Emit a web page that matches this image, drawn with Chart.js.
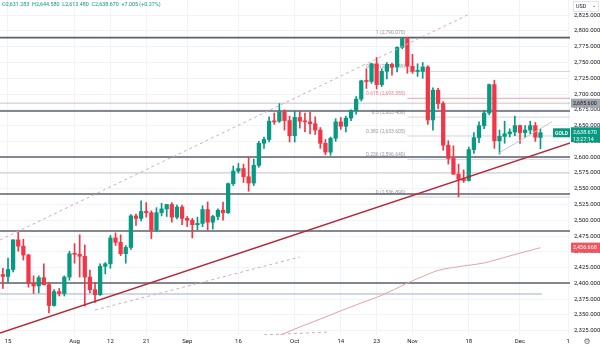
<!DOCTYPE html>
<html>
<head>
<meta charset="utf-8">
<script src="https://cdn.jsdelivr.net/npm/chart.js@4.4.1/dist/chart.umd.min.js"></script>
<style>
html, body { margin: 0; padding: 0; background: #fff; }
#wrap { width: 600px; height: 348px; }
</style>
</head>
<body>
<div id="wrap"><canvas id="goldChart" width="600" height="348"></canvas></div>
<script>
// GOLD daily candles, Jul 12 - Dec 6 (trading days, index 0..105)
const open = [
  2414, 2411, 2422, 2469, 2459, 2445, 2400, 2396, 2409, 2398, 2365, 2387, 2384, 2410,
  2447, 2446, 2443, 2410, 2390, 2382, 2427, 2431, 2472, 2465, 2447, 2457, 2507, 2503,
  2514, 2512, 2485, 2512, 2518, 2525, 2505, 2521,
  2503, 2500, 2493, 2495, 2517, 2497, 2506, 2516, 2512, 2558, 2578, 2582, 2569, 2559,
  2587, 2622, 2628, 2657, 2657, 2672, 2658,
  2634, 2663, 2657, 2656, 2653, 2643, 2622, 2608, 2630, 2656, 2649, 2662, 2674, 2692,
  2721, 2720, 2748, 2715, 2736, 2747, 2743, 2774, 2788,
  2744, 2736, 2736, 2743, 2659, 2706, 2685, 2619, 2598, 2573, 2565, 2563, 2612, 2631,
  2650, 2670, 2715, 2626, 2633, 2637, 2640,
  2650, 2639, 2643, 2650, 2631.283
];
const high = [
  2424, 2440, 2469, 2483, 2470, 2446, 2412, 2412, 2431, 2401, 2390, 2392, 2412, 2451,
  2463, 2477, 2461, 2421, 2401, 2431, 2433, 2476, 2480, 2477, 2460, 2509, 2510, 2531,
  2528, 2515, 2520, 2527, 2525, 2528, 2524, 2524,
  2506, 2503, 2505, 2523, 2529, 2508, 2518, 2529, 2559, 2586, 2590, 2589, 2600, 2597,
  2625, 2632, 2664, 2670, 2685, 2675, 2665,
  2673, 2673, 2670, 2671, 2664, 2647, 2628, 2632, 2661, 2663, 2665, 2675, 2696, 2722,
  2740, 2749, 2758, 2740, 2750, 2749, 2775, 2790, 2790.07,
  2763, 2748, 2750, 2745, 2710, 2709, 2688, 2626, 2618, 2589, 2580, 2616, 2639, 2656,
  2674, 2716, 2722, 2643, 2657, 2645, 2665,
  2651, 2650, 2657, 2655, 2644.58
];
const low = [
  2392, 2401, 2418, 2451, 2437, 2394, 2384, 2385, 2397, 2353, 2364, 2380, 2380, 2405,
  2432, 2410, 2364, 2385, 2370, 2381, 2415, 2424, 2460, 2444, 2432, 2454, 2492, 2499,
  2505, 2471, 2482, 2507, 2506, 2497, 2502, 2493,
  2490, 2472, 2485, 2490, 2485, 2486, 2501, 2500, 2511, 2555, 2575, 2560, 2546, 2555,
  2584, 2614, 2624, 2652, 2655, 2643, 2624,
  2624, 2646, 2640, 2637, 2636, 2614, 2604, 2603, 2625, 2644, 2640, 2658, 2668, 2689,
  2709, 2717, 2708, 2712, 2724, 2730, 2735, 2772, 2733,
  2733, 2728, 2725, 2652, 2643, 2677, 2611, 2589, 2573, 2536.89, 2560, 2562, 2606, 2623,
  2645, 2667, 2614, 2605, 2622, 2632, 2634,
  2622, 2631, 2637, 2625, 2613.48
];
const close = [
  2411, 2422, 2469, 2459, 2445, 2400, 2396, 2409, 2398, 2365, 2387, 2384, 2410, 2447,
  2446, 2443, 2410, 2390, 2382, 2427, 2431, 2472, 2465, 2447, 2457, 2507, 2503, 2514,
  2512, 2485, 2512, 2518, 2525, 2505, 2521, 2503,
  2500, 2493, 2495, 2517, 2497, 2506, 2516, 2512, 2558, 2578, 2582, 2569, 2559, 2587,
  2622, 2628, 2657, 2656, 2672, 2658, 2634,
  2663, 2657, 2656, 2653, 2643, 2622, 2608, 2630, 2656, 2649, 2662, 2674, 2692, 2721,
  2720, 2748, 2715, 2736, 2747, 2743, 2774, 2788, 2744,
  2736, 2736, 2743, 2659, 2706, 2685, 2619, 2598, 2573, 2565, 2563, 2612, 2631, 2650,
  2670, 2715, 2626, 2633, 2637, 2640, 2650,
  2639, 2643, 2650, 2631.665, 2638.67
];

// time axis labels (candle index -> text)
const tickIdx = [1, 14, 21, 28, 36, 46, 57, 66, 73, 80, 91, 101, 110.4];
const tickText = ['15', 'Aug', '12', '21', 'Sep', '16', 'Oct', '14', '23', 'Nov', '18', 'Dec', '1'];

// 200-day moving average
const maIdx = [44, 55, 58, 62, 66, 70, 74, 79, 82, 85, 89, 94, 99, 105];
const maVal = [2284, 2320.8, 2330.9, 2343.5, 2356.5, 2369, 2381, 2400.5, 2411, 2420.5, 2426.5, 2432.5, 2443.5, 2456.668];

// horizontal levels
const darkLevels = [2789.4, 2673.2, 2600.3, 2541.7, 2483, 2400.6];
const lightLevels = [2685.6, 2575];
const blueLevel = 2383.2;

// fibonacci retracement, Oct 31 high to Nov 14 low
const fibHigh = 2790.07, fibLow = 2536.89, fibStart = 79;
const fibRatios = [1, 0.786, 0.618, 0.5, 0.382, 0.236, 0];

// trend lines: [index, price] endpoints
const redTrend = [[-0.56, 2321.4], [110.8, 2622.5]];
const upperChannel = [[-0.56, 2468.8], [90.8, 2825.4]];
const lowerChannel = [[18, 2357.8], [58, 2441.8]];
const bottomDash = [[51, 2318.5], [63.5, 2322.8]];
const shortTrend = [[96.9, 2606.7], [107.2, 2655.8]];

const UP = '#089981', DOWN = '#f23645';
const X_MIN = -0.5625, X_MAX = 110.77;

const fmt = v => v.toLocaleString('en-US', { minimumFractionDigits: 3, maximumFractionDigits: 3 });
const seg = (pts) => pts.map(p => ({ x: p[0], y: p[1] }));
const flat = (v, a, b) => [{ x: a, y: v }, { x: b, y: v }];
const candleColor = ctx => close[ctx.dataIndex] >= open[ctx.dataIndex] ? UP : DOWN;

function lineSet(data, color, width, dash, order) {
  return {
    type: 'line', data, borderColor: color, borderWidth: width,
    borderDash: dash || [], pointRadius: 0, fill: false, order: order
  };
}

const datasets = [];
darkLevels.forEach(v => datasets.push(lineSet(flat(v, X_MIN - 1, X_MAX + 1), '#5d606b', 1.6, null, 5)));
lightLevels.forEach(v => datasets.push(lineSet(flat(v, X_MIN - 1, X_MAX + 1), '#c3c6ce', 1, null, 5)));
datasets.push(lineSet(flat(blueLevel, X_MIN - 1, 105.3), '#9fb0cc', 1, null, 5));
fibRatios.forEach(r => {
  const v = fibLow + r * (fibHigh - fibLow);
  datasets.push(lineSet(flat(v, fibStart, X_MAX + 1), r === 0.618 ? '#e8a3a8' : '#d1d4dc', 1, null, 5));
});
datasets.push(lineSet(maIdx.map((i, k) => ({ x: i, y: maVal[k] })), '#e8a0a6', 1, null, 4));
datasets[datasets.length - 1].cubicInterpolationMode = 'monotone';
datasets.push(lineSet(seg(upperChannel), '#d9aab0', 1, [3, 3], 1));
datasets.push(lineSet(seg(lowerChannel), '#d9aab0', 1, [3, 3], 1));
datasets.push(lineSet(seg(bottomDash), '#d9aab0', 1, [3, 3], 1));
datasets.push(lineSet(seg(shortTrend), '#c3c6ce', 1, null, 1));
datasets.push(lineSet(seg(redTrend), '#b12a38', 1.4, null, 0));

// wicks behind bodies
datasets.push({
  type: 'bar', grouped: false, order: 3, barThickness: 1, borderWidth: 0,
  data: low.map((l, i) => ({ x: i, y: [l, high[i]] })),
  backgroundColor: candleColor
});
datasets.push({
  type: 'bar', grouped: false, order: 2, barThickness: 3.6, borderWidth: 0, minBarLength: 1,
  data: open.map((o, i) => ({ x: i, y: [o, close[i]] })),
  backgroundColor: candleColor
});

const FONT = 'Roboto, "Liberation Sans", sans-serif';

function tag(ctx, yPix, x0, w, h, bg, lines, fg) {
  ctx.fillStyle = bg;
  ctx.fillRect(x0, yPix - h / 2, w, h);
  ctx.fillStyle = fg;
  ctx.textAlign = 'left';
  ctx.textBaseline = 'middle';
  if (lines.length === 1) {
    ctx.fillText(lines[0], x0 + 2, yPix + 0.5);
  } else {
    ctx.fillText(lines[0], x0 + 2, yPix - 2.5);
    ctx.fillText(lines[1], x0 + 2, yPix + 4.5);
  }
}

const noPad = s => { s.paddingLeft = 0; s.paddingRight = 0; s.paddingTop = 0; s.paddingBottom = 0; };

const overlay = {
  id: 'overlay',
  // fib labels sit under the candles
  beforeDatasetsDraw(chart) {
    const { ctx, scales: { x, y } } = chart;
    ctx.save();
    ctx.font = '5px ' + FONT;
    ctx.textAlign = 'right';
    ctx.textBaseline = 'bottom';
    const xr = x.getPixelForValue(fibStart) - 2;
    fibRatios.forEach(r => {
      const v = fibLow + r * (fibHigh - fibLow);
      ctx.fillStyle = r === 0.618 ? '#e57f87' : '#9598a1';
      ctx.fillText(r + ' (' + fmt(v) + ')', xr, y.getPixelForValue(v) - 2);
    });
    ctx.restore();
  },
  afterDraw(chart) {
    const { ctx, scales: { y }, chartArea } = chart;
    ctx.save();
    // OHLC header
    ctx.font = '5.4px ' + FONT;
    ctx.fillStyle = UP;
    ctx.textAlign = 'left';
    ctx.textBaseline = 'middle';
    const n = close.length - 1;
    const chg = close[n] - close[n - 1];
    ctx.fillText('O' + fmt(open[n]) + '  H' + fmt(high[n]) + '  L' + fmt(low[n]) + '  C' + fmt(close[n]) +
      '  +' + chg.toFixed(3) + ' (+' + (chg / close[n - 1] * 100).toFixed(2) + '%)', 2, 5);

    // price scale tags
    ctx.font = '5.4px ' + FONT;
    tag(ctx, y.getPixelForValue(lightLevels[0]), 571, 29, 9, '#a3a6af', [fmt(lightLevels[0])], '#131722');
    tag(ctx, y.getPixelForValue(maVal[maVal.length - 1]), 571, 29, 10, '#f0555f', [fmt(maVal[maVal.length - 1])], '#ffffff');
    const py = y.getPixelForValue(close[n]);
    tag(ctx, py + 2, 571, 29, 15, UP, [fmt(close[n]), '13:27:14'], '#ffffff');
    ctx.fillStyle = UP;
    ctx.fillRect(553, py - 4.5, 17, 9);
    ctx.fillStyle = '#ffffff';
    ctx.font = 'bold 5px ' + FONT;
    ctx.textAlign = 'center';
    ctx.fillText('GOLD', 561.5, py + 0.5);

    // currency box
    ctx.strokeStyle = '#e0e3eb';
    ctx.lineWidth = 1;
    ctx.strokeRect(573.5, 1.5, 25, 10);
    ctx.fillStyle = '#131722';
    ctx.font = '5.4px ' + FONT;
    ctx.textAlign = 'left';
    ctx.fillText('USD', 576, 7);
    ctx.fillText('\u2304', 592, 6);

    // settings gear
    ctx.font = '8px "DejaVu Sans"';
    ctx.textAlign = 'center';
    ctx.fillStyle = '#6a6d78';
    ctx.fillText('\u2699', 587, chartArea.bottom + 6.5);
    ctx.restore();
  }
};

new Chart(document.getElementById('goldChart'), {
  type: 'bar',
  data: { datasets },
  plugins: [overlay],
  options: {
    responsive: false,
    animation: false,
    devicePixelRatio: 1,
    layout: { padding: 0, autoPadding: false },
    plugins: { legend: { display: false }, tooltip: { enabled: false } },
    scales: {
      x: {
        type: 'linear',
        offset: false,
        min: X_MIN,
        max: X_MAX,
        afterBuildTicks: s => { s.ticks = tickIdx.map(v => ({ value: v })); },
        afterFit: s => { s.height = 13; noPad(s); },
        ticks: {
          autoSkip: false, maxRotation: 0, padding: 3,
          color: '#131722', font: { size: 6, family: FONT },
          callback: v => tickText[tickIdx.indexOf(v)]
        },
        grid: { color: '#f0f3fa', drawTicks: false, offset: false },
        border: { display: false }
      },
      y: {
        position: 'right',
        min: 2318.2,
        max: 2849.1,
        afterBuildTicks: s => {
          const t = [];
          for (let v = 2325; v <= 2825; v += 25) t.push({ value: v });
          s.ticks = t;
        },
        afterFit: s => { s.width = 30; noPad(s); },
        ticks: {
          padding: 4, color: '#131722', font: { size: 6, family: FONT },
          callback: v => fmt(v)
        },
        grid: { color: '#f0f3fa', drawTicks: false },
        border: { display: false }
      }
    }
  }
});
</script>
</body>
</html>
